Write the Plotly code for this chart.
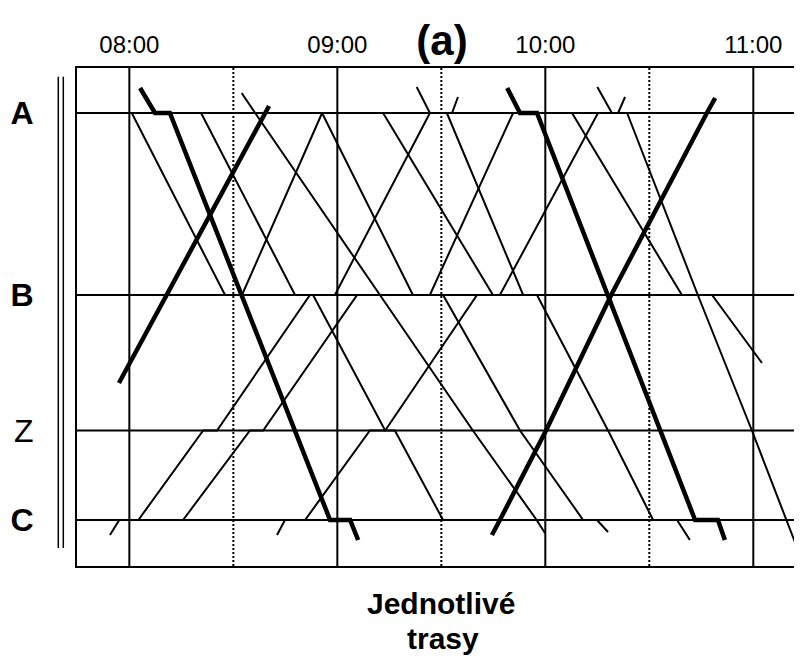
import plotly.graph_objects as go

# ---------------- data ----------------
# stations (position along the line, top to bottom)
station_names = ["A", "B", "Z", "C"]
station_km = [0.0, 18.2, 31.75, 40.7]
station_labels = ["<b>A</b>", "<b>B</b>", "Z", "<b>C</b>"]

# time axis (minutes after 08:00)
hour_ticks = [0, 60, 120, 180]
hour_labels = ["08:00", "09:00", "10:00", "11:00"]
half_hour_ticks = [30, 90, 150]

# thin train paths: time (min after 08:00) and position (station or km for stubs)
train_01_t = [0.7, 27.6, 32.5, 55.6, 81.8, 86.7, 110.7]
train_01_s = ["A", "B", "B", "A", "B", "B", "A"]

train_02_t = [20.7, 47.8, 53.0, 73.8, 76.6, 90.5, 96.3]
train_02_s = ["A", "B", "B", "Z", "Z", "C", "C"]

train_03_t = [32.4, 36.3, 72.3, 99.1, 117.5, 119.9]
train_03_s = [-2.0, "A", "B", "Z", "C", 42.0]

train_04_t = [-5.6, -2.9, 2.6, 21.3, 25.3, 52.1, 59.3, 86.7]
train_04_s = [42.2, "C", "C", "Z", "Z", "B", "B", "A"]

train_05_t = [15.5, 34.8, 38.6, 65.7, 90.5, 112.7, 130.9, 134.9, 138.1]
train_05_s = ["C", "Z", "Z", "B", "B", "Z", "C", "C", 41.9]

train_06_t = [91.6, 113.6, 117.6, 138.1, 151.1, 158.0, 161.7]
train_06_s = ["A", "B", "B", "Z", "C", "C", 42.7]

train_07_t = [42.6, 44.9, 50.7, 69.4, 73.8, 100.3, 106.9, 135.2]
train_07_s = [42.2, "C", "C", "Z", "Z", "B", "B", "A"]

train_08_t = [127.7, 159.4, 168.1, 182.5]
train_08_s = ["A", "B", "B", 25.0]

train_09_t = [143.6, 164.0, 179.6, 189.7, 192.0]
train_09_s = ["A", "B", "Z", "C", 42.9]

train_10_t = [73.2, 104.9]
train_10_s = ["A", "B"]

train_11_t = [82.9, 86.7, 93.1, 94.8]
train_11_s = [-2.6, "A", "A", -1.6]

train_12_t = [135.0, 139.2, 141.0, 143.0]
train_12_s = [-2.6, "A", "A", -1.6]

# thick (highlighted) train paths
thick_1_t = [3.1, 7.4, 11.7, 57.9, 63.7, 66.0]
thick_1_s = [-2.5, "A", "A", "C", "C", 42.7]

thick_2_t = [-3.0, 39.1, 40.3]
thick_2_s = [27.0, "A", -0.7]

thick_3_t = [109.0, 112.7, 117.6, 163.2, 169.8, 171.8]
thick_3_s = [-2.5, "A", "A", "C", "C", 42.7]

thick_4_t = [104.6, 106.9, 120.2, 139.0, 166.6, 169.0]
thick_4_s = [42.2, "C", "Z", "B", "A", -1.5]

thin_trains = [
    (train_01_t, train_01_s), (train_02_t, train_02_s), (train_03_t, train_03_s),
    (train_04_t, train_04_s), (train_05_t, train_05_s), (train_06_t, train_06_s),
    (train_07_t, train_07_s), (train_08_t, train_08_s), (train_09_t, train_09_s),
    (train_10_t, train_10_s), (train_11_t, train_11_s), (train_12_t, train_12_s),
]
thick_trains = [
    (thick_1_t, thick_1_s), (thick_2_t, thick_2_s),
    (thick_3_t, thick_3_s), (thick_4_t, thick_4_s),
]

# ---------------- figure ----------------
st = dict(zip(station_names, station_km))


def pos(vals):
    return [st[v] if isinstance(v, str) else v for v in vals]


FONT = "Liberation Sans, Arial, sans-serif"
fig = go.Figure()

for t, s in thin_trains:
    fig.add_trace(go.Scatter(x=t, y=pos(s), mode="lines",
                             line=dict(color="black", width=2),
                             hoverinfo="skip", showlegend=False))
for t, s in thick_trains:
    fig.add_trace(go.Scatter(x=t, y=pos(s), mode="lines",
                             line=dict(color="black", width=4.5),
                             hoverinfo="skip", showlegend=False))

shapes = []
for h in hour_ticks:
    shapes.append(dict(type="line", xref="x", yref="paper", x0=h, x1=h, y0=0, y1=1,
                       line=dict(color="black", width=2), layer="below"))
for h in half_hour_ticks:
    shapes.append(dict(type="line", xref="x", yref="paper", x0=h, x1=h, y0=0, y1=1,
                       line=dict(color="black", width=2, dash="2px,2px"), layer="below"))
for km in station_km:
    shapes.append(dict(type="line", xref="paper", yref="y", x0=0, x1=1, y0=km, y1=km,
                       line=dict(color="black", width=2), layer="below"))
# double bar on the left of the diagram
for xp in [-0.0258, -0.0189]:
    shapes.append(dict(type="line", xref="paper", yref="paper", x0=xp, x1=xp,
                       y0=0.036, y1=0.9825, line=dict(color="black", width=1.5)))

# the page body has an 8px margin, so the figure is 8px smaller each way
fig.update_layout(
    width=794, height=650,
    margin=dict(l=69, r=0, t=60, b=92, autoexpand=False),
    paper_bgcolor="white", plot_bgcolor="white",
    showlegend=False,
    shapes=shapes,
    title=dict(text="<b>(a)</b>", x=434 / 794, xref="container", xanchor="center",
               y=1 - 32 / 650, yanchor="middle",
               font=dict(family=FONT, size=42, color="black")),
    xaxis=dict(range=[-15.1, 194.05], side="top", tickvals=hour_ticks, ticktext=hour_labels,
               ticks="", showgrid=False, zeroline=False, showline=True, mirror=True,
               linecolor="black", linewidth=2, ticklabelstandoff=3, automargin=False,
               tickfont=dict(family=FONT, size=24, color="black")),
    yaxis=dict(range=[45.3, -4.5], tickvals=station_km, ticktext=station_labels,
               ticks="", showgrid=False, zeroline=False, showline=True, mirror=False,
               linecolor="black", linewidth=2, ticklabelstandoff=35, automargin=False,
               tickfont=dict(family=FONT, size=32, color="black")),
    annotations=[
        dict(text="<b>Jednotlivé</b>", xref="paper", yref="paper", x=0.502, y=-0.0743,
             xanchor="center", yanchor="middle", showarrow=False,
             font=dict(family=FONT, size=30, color="black")),
        dict(text="<b>trasy</b>", xref="paper", yref="paper", x=0.505, y=-0.1446,
             xanchor="center", yanchor="middle", showarrow=False,
             font=dict(family=FONT, size=30, color="black")),
    ],
)

fig.write_html("out.html")
